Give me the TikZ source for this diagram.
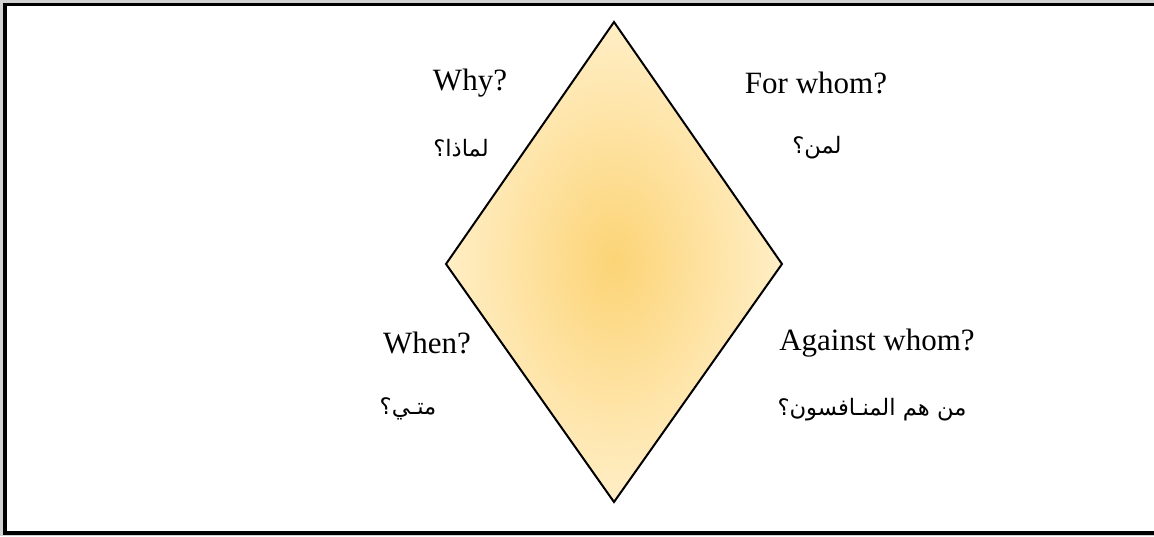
\documentclass[tikz,border=0pt]{standalone}
\usepackage{fontspec}
\setmainfont{Liberation Serif}
\newfontfamily\arabicfont[Script=Arabic]{DejaVu Sans}
\TeXXeTstate=1
\definecolor{diaminner}{RGB}{252,212,118}
\definecolor{diamouter}{RGB}{255,238,198}
\definecolor{margingray}{RGB}{210,210,210}
\tikzset{
  entext/.style={inner sep=0pt, anchor=center, font=\fontsize{23.25}{28}\selectfont},
  artext/.style={inner sep=0pt, anchor=center, font=\arabicfont\fontsize{17}{22}\selectfont},
  diamondshape/.style={draw=black, line width=1.5pt, line join=miter, inner color=diaminner, outer color=diamouter}
}
\begin{document}
\begin{tikzpicture}[x=0.75pt,y=-0.75pt]
\useasboundingbox (0,0) rectangle (1154,536);
% background and frame
\fill[margingray] (0,0) rectangle (1154,536);
\fill[white] (3,3) rectangle (1154,535);
\fill[black] (3,3) rectangle (7,535);
\fill[black] (3,3) rectangle (1154,5.5);
\fill[black] (3,531) rectangle (1154,535);
% diamond
\coordinate (top) at (614,22);
\coordinate (left) at (446,264);
\coordinate (right) at (782,264);
\coordinate (bottom) at (614,502);
\path[diamondshape] (top) -- (right) -- (bottom) -- (left) -- cycle;
% labels
\node[entext] (why) at (470,83) {Why?};
\node[artext] (whyar) at (461,148) {\beginR لماذا؟\endR};
\node[entext] (forwhom) at (816,83) {For whom?};
\node[artext] (forwhomar) at (817,148) {\beginR لمن؟\endR};
\node[entext] (when) at (427,343) {When?};
\node[artext] (whenar) at (408,409) {\beginR متـي؟\endR};
\node[entext] (against) at (877,343) {Against whom?};
\node[artext] (againstar) at (872,410) {\beginR من هم المنـافسون؟\endR};
\end{tikzpicture}
\end{document}
